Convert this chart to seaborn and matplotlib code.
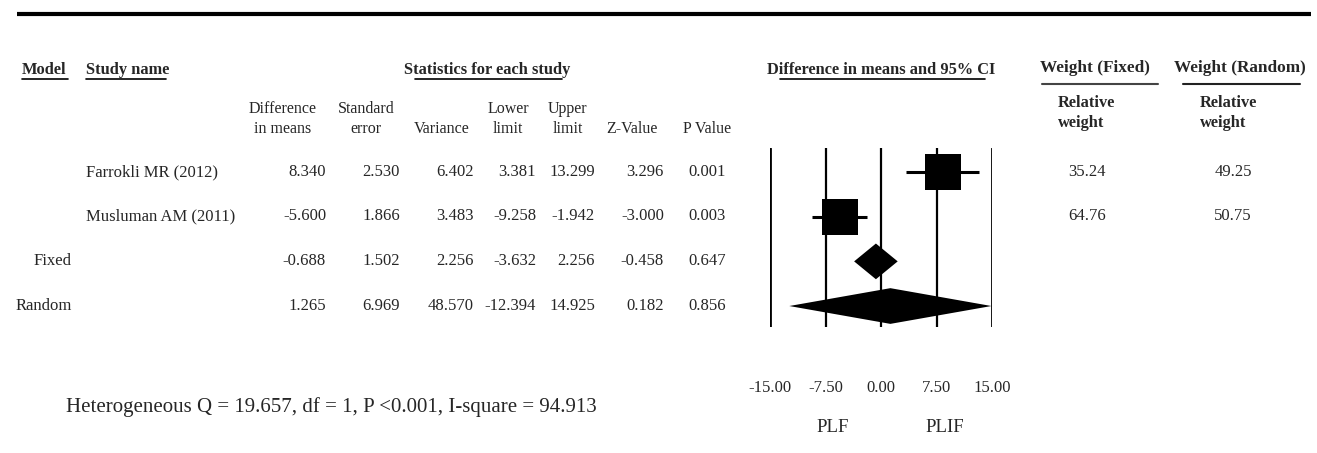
import matplotlib
matplotlib.use("Agg")
import matplotlib.pyplot as plt
import pandas as pd
import seaborn as sns

row_models = ["", "", "Fixed", "Random"]
studies = ["Farrokli MR (2012)", "Musluman AM (2011)", "", ""]
diff_means = [8.340, -5.600, -0.688, 1.265]
std_err = [2.530, 1.866, 1.502, 6.969]
variance = [6.402, 3.483, 2.256, 48.570]
lower = [3.381, -9.258, -3.632, -12.394]
upper = [13.299, -1.942, 2.256, 14.925]
z_value = [3.296, -3.000, -0.458, 0.182]
p_value = [0.001, 0.003, 0.647, 0.856]
weight_fixed = [35.24, 64.76]
weight_random = [49.25, 50.75]
x_ticks = [-15.0, -7.5, 0.0, 7.5, 15.0]

sns.set_style("white")
plt.rcParams["font.family"] = ["Liberation Serif", "DejaVu Serif"]

W, H = 1317, 453
fig = plt.figure(figsize=(W / 100, H / 100), dpi=100)

# background axes in pixel units for the table layout
bg = fig.add_axes([0, 0, 1, 1])
bg.set_xlim(0, W)
bg.set_ylim(H, 0)
bg.axis("off")

fs = 12
hs = 11.8
bold = dict(fontsize=hs, fontweight="bold", va="center")

bg.plot([17, 1311], [14, 14], color="black", lw=3, solid_capstyle="butt")

# top headers
bg.text(22, 70, "Model", ha="left", **bold)
bg.plot([22, 68], [79, 79], color="black", lw=1.2)
bg.text(86, 70, "Study name", ha="left", **bold)
bg.plot([86, 166], [79, 79], color="black", lw=1.2)
bg.text(487, 70, "Statistics for each study", ha="center", **bold)
bg.plot([415, 562], [79, 79], color="black", lw=1.2)
bg.text(881, 70, "Difference in means and 95% CI", ha="center", **bold)
bg.plot([780, 985], [79, 79], color="black", lw=1.2)

bg.text(1095, 68, "Weight (Fixed)", ha="center", fontsize=hs + 0.6,
        fontweight="bold", va="center")
bg.plot([1042, 1158], [84, 84], color="#444444", lw=1.5)
bg.text(1240, 68, "Weight (Random)", ha="center", fontsize=hs + 0.6,
        fontweight="bold", va="center")
bg.plot([1183, 1300], [84, 84], color="#222222", lw=1.5)
for x0 in [1058, 1200]:
    bg.text(x0, 113, "Relative\nweight", ha="left", va="center",
            fontsize=hs, fontweight="bold", linespacing=1.35)

# column headers
col_heads = ["Difference\nin means", "Standard\nerror", "Variance",
             "Lower\nlimit", "Upper\nlimit", "Z-Value", "P Value"]
head_x = [283, 366, 442, 508, 568, 632, 707]
for label, hx in zip(col_heads, head_x):
    bg.text(hx, 133, label, ha="center", va="baseline", fontsize=11.5,
            linespacing=1.3)

# table rows
row_y = [172, 216, 261, 306]
num_right = [326, 400, 474, 536, 595, 664, 726]
cols = [diff_means, std_err, variance, lower, upper, z_value, p_value]
for i, y in enumerate(row_y):
    if row_models[i]:
        bg.text(72, y, row_models[i], ha="right", va="center", fontsize=fs)
    if studies[i]:
        bg.text(86, y, studies[i], ha="left", va="center", fontsize=fs)
    for col, xr in zip(cols, num_right):
        bg.text(xr, y, f"{col[i]:.3f}", ha="right", va="center", fontsize=fs)
for i in range(len(weight_fixed)):
    bg.text(1087, row_y[i], f"{weight_fixed[i]:.2f}", ha="center",
            va="center", fontsize=fs)
    bg.text(1233, row_y[i], f"{weight_random[i]:.2f}", ha="center",
            va="center", fontsize=fs)

bg.text(66, 407, "Heterogeneous Q = 19.657, df = 1, P <0.001, I-square = 94.913",
        ha="left", va="center", fontsize=15)
bg.text(833, 427, "PLF", ha="center", va="center", fontsize=13.5)
bg.text(945, 427, "PLIF", ha="center", va="center", fontsize=13.5)

# forest plot axes: x -15..15 over 770..992 px, rows 148..327 px
ax = fig.add_axes([770 / W, 1 - 327 / H, 222 / W, 179 / H])
ax.patch.set_alpha(0)
ax.set_xlim(-15, 15)
ax.set_ylim(3.47, -0.54)
for s in ax.spines.values():
    s.set_visible(False)
ax.set_yticks([])
ax.set_xticks(x_ticks)
ax.set_xticklabels([f"{t:.2f}" for t in x_ticks], fontsize=fs)
ax.tick_params(axis="x", length=0, pad=38)

for t in x_ticks:
    lw = 2.0 if abs(t) == 15 else 1.6
    ax.axvline(t, color="black", lw=lw, zorder=1)

df = pd.DataFrame({"row": [0, 1], "diff": diff_means[:2],
                   "lower": lower[:2], "upper": upper[:2]})
ax.hlines(df["row"], df["lower"], df["upper"], color="black", lw=2.2, zorder=2)
sns.scatterplot(data=df, x="diff", y="row", marker="s", s=26 ** 2,
                color="black", edgecolor="black", linewidth=0, ax=ax,
                zorder=3, legend=False)
ax.set_xlabel("")
ax.set_ylabel("")

h = 0.4
for i in [2, 3]:
    ax.fill([lower[i], diff_means[i], upper[i], diff_means[i]],
            [i, i - h, i, i + h], color="black", zorder=3, lw=0)

fig.savefig("out.png", dpi=100)
